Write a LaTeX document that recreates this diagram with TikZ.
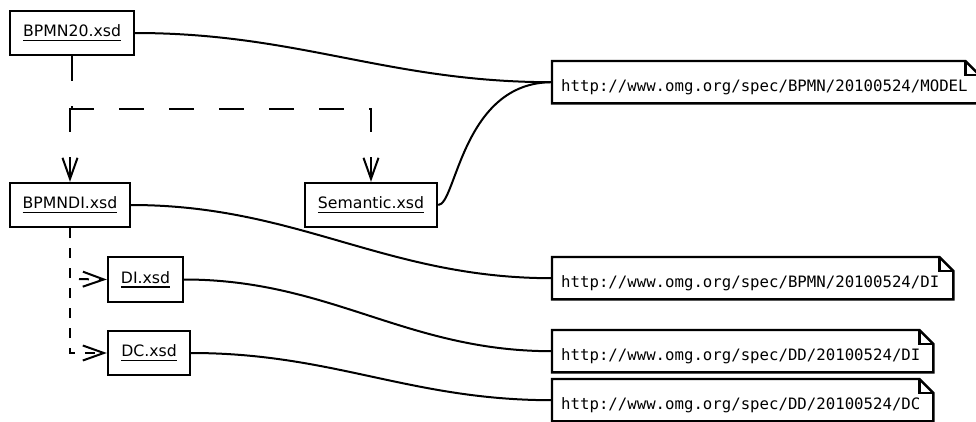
\documentclass[tikz,border=0pt]{standalone}
\usepackage{fontspec}
\setmainfont{DejaVu Sans}
\newfontfamily\monofont{DejaVu Sans Mono}
\usetikzlibrary{arrows.meta}

% schema file name with a thick underline
\newcommand\schemaname[1]{\leavevmode\setbox0\hbox{#1}\rlap{\rule[-4.2pt]{\wd0}{1.4pt}}\box0}

% outline of a namespace note with a folded top right corner
\newcommand\foldednote[1]{%
  \draw[noteline] (#1.north west) -- ([xshift=-14pt]#1.north east)
    -- ([yshift=-14pt]#1.north east) -- (#1.south east) -- (#1.south west) -- cycle;
  \draw[noteline] ([xshift=-14pt]#1.north east) |- ([yshift=-14pt]#1.north east);}

\begin{document}
\begin{tikzpicture}[x=1pt,y=-1pt,line join=miter,
  schema/.style={draw, line width=2.4pt, inner sep=0pt, minimum height=44pt,
    font=\fontsize{15.7}{18}\selectfont},
  nsnote/.style={inner sep=0pt, anchor=north west, minimum height=42pt},
  urltext/.style={anchor=base west, xshift=9pt, yshift=-9pt, inner sep=0pt,
    font=\monofont\fontsize{15.7}{18}\selectfont},
  noteline/.style={line width=2.4pt},
  link/.style={line width=2pt},
  bigdash/.style={line width=2pt, dash pattern=on 25pt off 25pt},
  smalldash/.style={line width=2pt, dash pattern=on 10pt off 10pt},
  barb/.style={-{Straight Barb[length=21pt,width=15pt]}},
]
\useasboundingbox (0,0) rectangle (976,421);

% schema files
\node[schema, minimum width=124pt] (bpmn)   at (72,33)     {\schemaname{BPMN20.xsd}};
\node[schema, minimum width=120pt] (bpmndi) at (70,205)    {\schemaname{BPMNDI.xsd}};
\node[schema, minimum width=132pt] (sem)    at (371,205)   {\schemaname{Semantic.xsd}};
\node[schema, minimum width=75pt, minimum height=45pt] (di) at (145.5,279.5) {\schemaname{DI.xsd}};
\node[schema, minimum width=82pt]  (dc)     at (149,353)   {\schemaname{DC.xsd}};

% target namespaces
\node[nsnote, minimum width=427pt,
  label={[urltext]west:{http://www.omg.org/spec/BPMN/20100524/MODEL}}] (nmodel) at (552,61) {};
\node[nsnote, minimum width=401pt,
  label={[urltext]west:{http://www.omg.org/spec/BPMN/20100524/DI}}] (nbpmndi) at (552,257) {};
\node[nsnote, minimum width=381pt,
  label={[urltext]west:{http://www.omg.org/spec/DD/20100524/DI}}] (nddi) at (552,330) {};
\node[nsnote, minimum width=381pt,
  label={[urltext]west:{http://www.omg.org/spec/DD/20100524/DC}}] (nddc) at (552,379) {};
\foldednote{nmodel}
\foldednote{nbpmndi}
\foldednote{nddi}
\foldednote{nddc}

% namespace links
\draw[link] (bpmn.east) to[out=0,in=180] (nmodel.west);
\draw[link] (sem.east) .. controls +(18,0) and +(-90,0) .. (nmodel.west);
\draw[link] (bpmndi.east) to[out=0,in=180] (nbpmndi.west);
\draw[link] (di.east) to[out=0,in=180] (nddi.west);
\draw[link] (dc.east) to[out=0,in=180] (nddc.west);

% imports
\coordinate (split) at (72,109);
\draw[bigdash, barb] (bpmn.south) -- (split) -| (sem.north);
\draw[bigdash, barb] (split) -| (bpmndi.north);

\coordinate (ditap) at (70,279);
\draw[smalldash, barb] (bpmndi.south) |- (dc.west);
\draw[smalldash, barb, dash phase=11pt] (ditap) -- (di.west);
\end{tikzpicture}
\end{document}
